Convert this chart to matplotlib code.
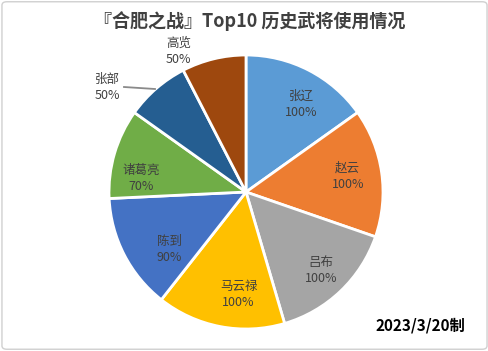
import numpy as np
import matplotlib.pyplot as plt
from matplotlib.patches import FancyBboxPatch

plt.rcParams['font.family'] = ['Noto Sans CJK SC', 'DejaVu Sans']

names = ['张辽', '赵云', '吕布', '马云禄', '陈到', '诸葛亮', '张部', '高览']
values = [100, 100, 100, 100, 90, 70, 50, 50]
colors = ['#5B9BD5', '#ED7D31', '#A5A5A5', '#FFC000', '#4472C4', '#70AD47', '#255E91', '#9E480E']
# label placement: radius, angle tweak (deg), pixel nudge
label_r = [0.75, 0.75, 0.75, 0.75, 0.75, 0.75, 1.30, 1.14]
label_da = [0, 0, 0, 0, 0, 0, 15, 12]
label_dx = [8, 0, 4, 12, 15, -6, 9, 0]
label_dy = [-4, 1, -4, -2, -10, -15, 5, 0]

W, H = 489, 351
fig = plt.figure(figsize=(W / 100, H / 100), dpi=100)
fig.patches.append(FancyBboxPatch((0.004, 0.005), 0.992, 0.99, boxstyle='round,pad=0,rounding_size=0.01',
                                  transform=fig.transFigure, fc='none', ec='#d0d0d0', lw=1))

cx, cy, R = 246, 192, 137
ax = fig.add_axes([(cx - R) / W, (H - cy - R) / H, 2 * R / W, 2 * R / H])
wedges, _ = ax.pie(values, colors=colors, startangle=90, counterclock=False,
                   wedgeprops=dict(edgecolor='white', linewidth=2))
ax.set_xlim(-1, 1)
ax.set_ylim(-1, 1)
ax.set_aspect('equal')
ax.axis('off')

for w, n, v, r, da, dx, dy in zip(wedges, names, values, label_r, label_da, label_dx, label_dy):
    a = np.deg2rad((w.theta1 + w.theta2) / 2 + da)
    x = r * np.cos(a) + dx / R
    y = r * np.sin(a) + dy / R
    ax.text(x, y, f'{n}\n{v}%', ha='center', va='center', fontsize=9,
            color='#404040', linespacing=1.3, clip_on=False)

# leader line for 张部 (figure pixel coords)
fig.add_artist(plt.Line2D([124 / W, 155 / W], [1 - 87 / H, 1 - 89 / H],
                          transform=fig.transFigure, color='#8a8a8a', lw=1.3, zorder=10))

fig.text(0.51, 0.94, '『合肥之战』Top10 历史武将使用情况', ha='center', va='center',
         fontsize=13, fontweight='bold', color='#404040')
fig.text(0.859, 0.074, '2023/3/20制', ha='center', va='center', fontsize=11,
         fontweight='bold', color='#000000')

fig.savefig('out.png', dpi=100)
